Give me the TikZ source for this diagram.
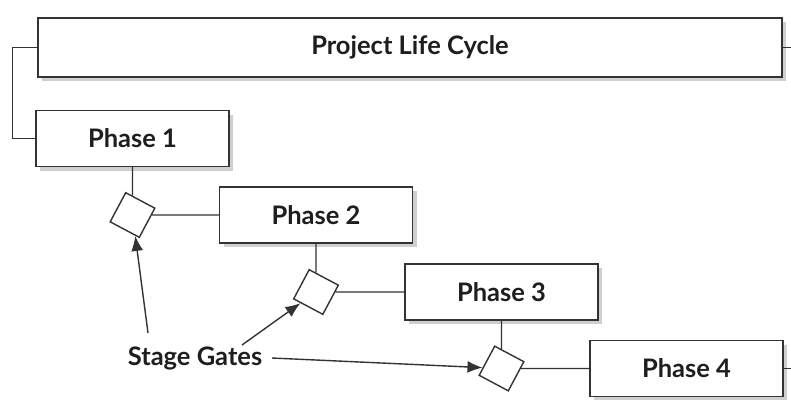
\documentclass[tikz,border=0pt]{standalone}
\usepackage{fontspec}
\setmainfont{Lato}
\usetikzlibrary{arrows.meta}
\usetikzlibrary{shadows}
\definecolor{myline}{HTML}{333333}
\definecolor{mytext}{HTML}{1E1E1E}
\definecolor{myshadow}{HTML}{CFCFCF}

\tikzset{
  label/.style={text=mytext, font=\fontsize{25.5}{30}\selectfont\bfseries},
  box/.style={label, draw=myline, line width=1.4pt, fill=white, inner sep=0pt,
    drop shadow={shadow xshift=4pt, shadow yshift=-4pt, fill=myshadow, opacity=1}},
  phase/.style={box, minimum width=193pt, minimum height=56pt},
  gate/.style={draw=myline, line width=1.4pt, fill=white, inner sep=0pt,
    minimum size=33pt, rotate=-28},
  link/.style={draw=myline, line width=1.4pt},
  pointer/.style={draw=myline, line width=1.4pt, -{Latex[length=15pt,width=12pt]}}
}

\begin{document}
\begin{tikzpicture}[x=1pt,y=-1pt]

      \useasboundingbox (0,0) rectangle (791,399);

      % LIFE CYCLE
      \node[box, minimum width=744pt, minimum height=59pt] (cycle) at (410,47.5) {Project Life Cycle};

      % phases
      \node[phase] (phase1) at (132.5,138.5) {Phase 1};
      \node[phase] (phase2) at (316,215) {Phase 2};
      \node[phase] (phase3) at (501.5,292) {Phase 3};
      \node[phase] (phase4) at (686.5,368.5) {Phase 4};

      % gates
      \node[gate] (gate1) at (phase1.south |- phase2.west) {};
      \node[gate] (gate2) at (phase2.south |- phase3.west) {};
      \node[gate] (gate3) at (phase3.south |- phase4.west) {};

      \coordinate (cycleend) at (791,47.5);
      \coordinate (phaseend) at (791,368.5);

      % links
      \draw[link] (cycle.west) -- ++(-25,0) |- (phase1.west);
      \draw[link] (cycle.east) -- (cycleend);
      \draw[link] (phase4.east) -- (phaseend);
      \draw[link] (phase1.south) -- (gate1);
      \draw[link] (gate1) -- (phase2.west);
      \draw[link] (phase2.south) -- (gate2);
      \draw[link] (gate2) -- (phase3.west);
      \draw[link] (phase3.south) -- (gate3);
      \draw[link] (gate3) -- (phase4.west);

      % stage gates
      \node[label] (gates) at (195,358) {Stage Gates};
      \draw[pointer] ([xshift=-47pt,yshift=25pt]gates.center) -- (gate1);
      \draw[pointer] ([xshift=47pt,yshift=13pt]gates.center) -- (gate2);
      \draw[pointer] ([xshift=77pt]gates.center) -- (gate3);

\end{tikzpicture}
\end{document}
